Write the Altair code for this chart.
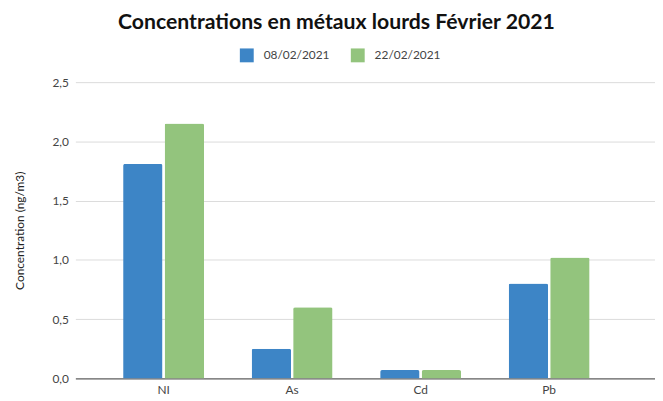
import altair as alt
import pandas as pd

categories = ["NI", "As", "Cd", "Pb"]
series_names = ["08/02/2021", "22/02/2021"]
values_0802 = [1.81, 0.25, 0.07, 0.80]
values_2202 = [2.15, 0.60, 0.07, 1.02]
colors = ["#3d85c6", "#93c47d"]
y_ticks = [0, 0.5, 1.0, 1.5, 2.0, 2.5]

rows = []
for c, a, b in zip(categories, values_0802, values_2202):
    rows.append({"metal": c, "date": series_names[0], "value": a})
    rows.append({"metal": c, "date": series_names[1], "value": b})
df = pd.DataFrame(rows)

FONT = "Lato"

chart = alt.Chart(df).mark_bar(
    cornerRadiusTopLeft=2, cornerRadiusTopRight=2
).encode(
    x=alt.X("metal:N", sort=categories,
            scale=alt.Scale(paddingInner=0.37, paddingOuter=0.44, align=0.422),
            axis=alt.Axis(title=None, labelAngle=0, ticks=False, domainColor="#666666",
                          domainWidth=1.5, labelColor="#444444", labelFontSize=12,
                          labelFont=FONT, labelPadding=6, grid=False)),
    xOffset=alt.XOffset("date:N", sort=series_names, scale=alt.Scale(paddingInner=0.05)),
    y=alt.Y("value:Q", scale=alt.Scale(domain=[0, 2.5], nice=False),
            axis=alt.Axis(title="Concentration (ng/m3)", values=y_ticks,
                          labelExpr="replace(format(datum.value, '.1f'), '.', ',')",
                          domain=False, ticks=False, gridColor="#dcdcdc", gridWidth=1,
                          labelColor="#444444", labelFontSize=12, labelFont=FONT,
                          labelPadding=7, titleFont=FONT, titleFontSize=12,
                          titleFontWeight="normal", titleColor="#222222",
                          titleX=-56, titleY=149.5, titleAngle=-90,
                          titleAlign="center", titleBaseline="middle")),
    color=alt.Color("date:N", sort=series_names,
                    scale=alt.Scale(domain=series_names, range=colors),
                    legend=alt.Legend(title=None, orient="none", legendX=166, legendY=-34,
                                      direction="horizontal", symbolType="square",
                                      symbolSize=196, symbolStrokeWidth=0,
                                      labelFont=FONT, labelFontSize=12,
                                      labelColor="#444444", labelOffset=10,
                                      columnPadding=21)),
).properties(
    width=585, height=299,
    title=alt.TitleParams("Concentrations en métaux lourds Février 2021",
                          font=FONT, fontSize=21.4, fontWeight="bold", color="#111111",
                          anchor="middle", dx=-29, offset=15),
    autosize=alt.AutoSizeParams(type="none"),
    padding={"left": 68, "top": 73, "right": 0, "bottom": 20},
).configure_view(stroke=None)

chart.save("out.html", embed_options={"renderer": "svg", "actions": False})
